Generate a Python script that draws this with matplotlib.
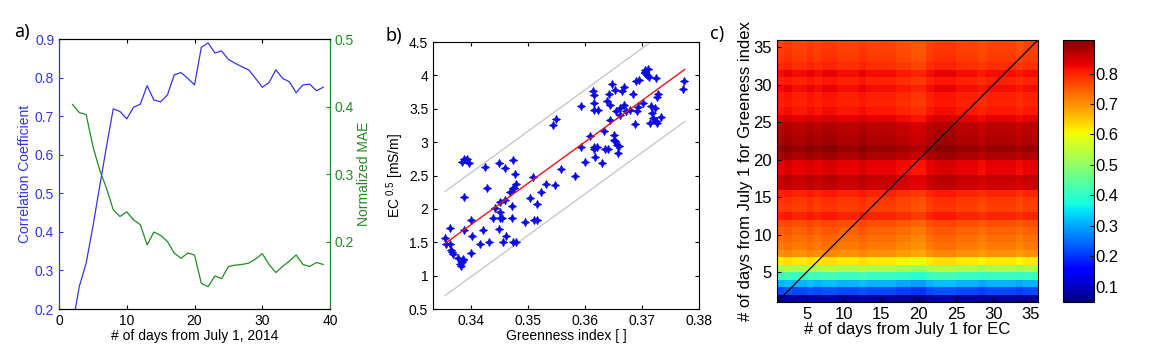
import numpy as np
import matplotlib
matplotlib.use('Agg')
import matplotlib.pyplot as plt
from matplotlib.ticker import FuncFormatter

plt.rcParams['font.family'] = ['Liberation Sans', 'DejaVu Sans']
plt.rcParams['mathtext.default'] = 'regular'

# panel a: correlation / MAE vs window length
days = list(range(2, 40))
corr = [0.16, 0.259, 0.319, 0.414, 0.518, 0.621, 0.719, 0.712, 0.693, 0.723,
        0.731, 0.779, 0.742, 0.737, 0.755, 0.807, 0.813, 0.798, 0.781, 0.878,
        0.890, 0.864, 0.869, 0.847, 0.837, 0.828, 0.820, 0.798, 0.775, 0.787,
        0.820, 0.798, 0.789, 0.761, 0.781, 0.783, 0.766, 0.775]
mae = [0.403, 0.391, 0.388, 0.341, 0.306, 0.279, 0.247, 0.237, 0.244, 0.232,
       0.225, 0.195, 0.214, 0.209, 0.200, 0.183, 0.175, 0.183, 0.180, 0.138,
       0.133, 0.149, 0.145, 0.163, 0.165, 0.166, 0.168, 0.174, 0.182, 0.166,
       0.154, 0.163, 0.171, 0.180, 0.166, 0.163, 0.169, 0.166]

# panel b: EC^0.5 vs greenness index
gi = [0.3354, 0.3356, 0.3363, 0.3363, 0.3364, 0.3366, 0.3368, 0.3376, 0.3381, 0.3384,
      0.3385, 0.3386, 0.3382, 0.3384, 0.3388, 0.3392, 0.3397, 0.3388, 0.3388, 0.3399,
      0.3401, 0.3399, 0.3415, 0.3421, 0.3425, 0.3428, 0.3432, 0.3438, 0.3442, 0.3448,
      0.3448, 0.3450, 0.3450, 0.3451, 0.3454, 0.3456, 0.3459, 0.3460, 0.3461, 0.3468,
      0.3472, 0.3472, 0.3473, 0.3474, 0.3473, 0.3477, 0.3478, 0.3479, 0.3475, 0.3494,
      0.3504, 0.3509, 0.3510, 0.3515, 0.3515, 0.3522, 0.3532, 0.3547, 0.3544, 0.3549,
      0.3557, 0.3582, 0.3592, 0.3593, 0.3600, 0.3609, 0.3613, 0.3615, 0.3615, 0.3615,
      0.3615, 0.3616, 0.3617, 0.3623, 0.3621, 0.3630, 0.3634, 0.3635, 0.3640, 0.3639,
      0.3642, 0.3643, 0.3644, 0.3647, 0.3650, 0.3650, 0.3652, 0.3653, 0.3655, 0.3656,
      0.3658, 0.3659, 0.3661, 0.3662, 0.3665, 0.3669, 0.3668, 0.3672, 0.3678, 0.3684,
      0.3687, 0.3690, 0.3691, 0.3693, 0.3694, 0.3702, 0.3705, 0.3706, 0.3708, 0.3711,
      0.3712, 0.3714, 0.3716, 0.3718, 0.3719, 0.3722, 0.3725, 0.3727, 0.3727, 0.3728,
      0.3725, 0.3734, 0.3774, 0.3772, 0.3706]
ec = [1.57, 1.48, 1.72, 1.48, 1.39, 1.35, 1.33, 1.26, 1.17, 1.20,
      1.25, 1.23, 1.15, 2.70, 2.75, 2.75, 2.68, 2.18, 1.68, 1.84,
      1.59, 1.34, 1.48, 1.69, 2.63, 2.31, 1.50, 1.87, 2.02, 2.68,
      1.70, 1.95, 2.10, 1.87, 1.87, 1.50, 2.13, 2.62, 1.59, 2.26,
      1.87, 2.05, 2.73, 2.31, 1.50, 2.53, 1.51, 2.38, 2.31, 1.80,
      2.17, 2.48, 1.84, 1.84, 2.07, 2.26, 2.37, 2.36, 3.26, 3.34,
      2.60, 2.50, 2.93, 3.54, 2.70, 3.09, 3.77, 3.71, 3.58, 3.48,
      2.89, 2.93, 2.77, 3.48, 2.93, 2.68, 3.17, 2.89, 2.89, 3.62,
      3.72, 3.33, 3.56, 3.87, 3.11, 3.03, 3.01, 3.78, 3.46, 2.96,
      2.83, 2.94, 3.51, 3.41, 3.76, 3.83, 3.56, 3.47, 3.48, 3.72,
      3.27, 3.91, 3.47, 3.52, 3.93, 3.58, 4.03, 4.08, 4.01, 4.09,
      3.97, 3.29, 3.54, 3.43, 3.36, 3.51, 3.96, 3.28, 3.67, 3.72,
      3.31, 3.37, 3.92, 3.80, 4.05]
fit_x = [0.3354, 0.3775]
fit_y = [1.48, 4.09]
band = 0.78

# panel c: correlation for EC window (cols) x greenness window (rows)
row_corr = [0.07, 0.22, 0.31, 0.41, 0.53, 0.62, 0.70, 0.72, 0.73, 0.745,
            0.76, 0.80, 0.775, 0.78, 0.80, 0.85, 0.857, 0.83, 0.835, 0.874,
            0.89, 0.874, 0.868, 0.863, 0.835, 0.81, 0.80, 0.805, 0.82, 0.80,
            0.82, 0.79, 0.78, 0.775, 0.77]
col_shift = [0.00, 0.01, 0.00, 0.00, 0.01, 0.00, 0.01, 0.01, 0.00, 0.00,
             0.00, 0.01, 0.00, 0.00, 0.00, 0.00, -0.01, -0.01, -0.02, -0.02,
             0.00, 0.01, 0.01, 0.01, 0.00, 0.00, 0.00, -0.01, 0.00, 0.00,
             0.00, 0.00, -0.01, 0.00, 0.00]
grid_days = list(range(1, 37))

blue = '#3535e0'
green = '#228b22'
fmt = FuncFormatter(lambda v, p: '%g' % round(v, 3))

fig = plt.figure(figsize=(11.6, 3.54), dpi=100)

# ---- a) ----
ax1 = fig.add_axes([0.0509, 0.1271, 0.2336, 0.7627])
ax1.plot(days, corr, color=blue, lw=0.9)
ax1.set_xlim(0, 40)
ax1.set_ylim(0.2, 0.9)
ax1.set_xticks([0, 10, 20, 30, 40])
ax1.set_yticks(np.arange(0.2, 0.91, 0.1))
ax1.yaxis.set_major_formatter(fmt)
ax1.tick_params(direction='in', top=True, right=True, labelsize=10, length=3)
ax1.tick_params(axis='y', colors=blue)
ax1.set_ylabel('Correlation Coefficient', color=blue, fontsize=10, labelpad=2)
ax1.set_xlabel('# of days from July 1, 2014', fontsize=10, labelpad=1)
ax2 = ax1.twinx()
ax2.plot(days, mae, color=green, lw=0.9)
ax2.set_ylim(0.1, 0.5)
ax2.set_yticks([0.2, 0.3, 0.4, 0.5])
ax2.yaxis.set_major_formatter(fmt)
ax2.tick_params(direction='in', colors=green, labelsize=10, length=3)
ax2.set_ylabel('Normalized MAE', color=green, fontsize=10, labelpad=2)
ax2.spines['right'].set_color(green)
ax2.spines['left'].set_color(blue)
fig.text(0.012, 0.895, 'a)', fontsize=13, family='Noto Sans')

# ---- b) ----
axb = fig.add_axes([0.3733, 0.1271, 0.2293, 0.7542])
fx = np.array(fit_x)
fy = np.array(fit_y)
axb.plot(fx, fy + band, color='#c8c8c8', lw=1)
axb.plot(fx, fy - band, color='#c8c8c8', lw=1)
axb.scatter(gi, ec, s=36, marker=(4, 1, 0), color='#0a0ae6', linewidths=0.4,
            edgecolors='#0a0ae6', zorder=3)
axb.plot(fx, fy, color='#e8141a', lw=1, zorder=4)
axb.set_xlim(0.3333, 0.38)
axb.set_ylim(0.5, 4.5)
axb.set_xticks([0.34, 0.35, 0.36, 0.37, 0.38])
axb.set_yticks(np.arange(0.5, 4.51, 0.5))
axb.xaxis.set_major_formatter(fmt)
axb.yaxis.set_major_formatter(fmt)
axb.tick_params(direction='in', top=True, right=True, labelsize=10, length=3)
axb.set_xlabel('Greenness index [ ]', fontsize=10, labelpad=1)
axb.set_ylabel('EC$^{\\ 0.5}$ [mS/m]', fontsize=10, labelpad=2)
fig.text(0.332, 0.885, 'b)', fontsize=13, family='Noto Sans')

# ---- c) ----
axc = fig.add_axes([0.6698, 0.1469, 0.2250, 0.7401])
corr_grid = np.array(row_corr)[:, None] + np.array(col_shift)[None, :]
mesh = axc.pcolormesh(grid_days, grid_days, corr_grid, cmap='jet',
                      vmin=0.05, vmax=0.91, shading='flat')
axc.plot([1, 36], [1, 36], color='black', lw=0.9)
axc.set_xlim(1, 36)
axc.set_ylim(1, 36)
axc.set_xticks(range(5, 36, 5))
axc.set_yticks(range(5, 36, 5))
axc.tick_params(direction='in', labelsize=12, length=3)
axc.set_xlabel('# of days from July 1 for EC', fontsize=12, labelpad=0)
axc.set_ylabel('# of days from July 1 for Greeness index', fontsize=12, labelpad=0)
fig.text(0.612, 0.89, 'c)', fontsize=13, family='Noto Sans')

cax = fig.add_axes([0.9164, 0.1469, 0.0267, 0.7401])
cb = fig.colorbar(mesh, cax=cax)
cb.set_ticks(np.arange(0.1, 0.81, 0.1))
cb.ax.yaxis.set_major_formatter(fmt)
cb.ax.tick_params(direction='in', labelsize=12, length=3, pad=1)
cb.outline.set_linewidth(0.8)

fig.savefig('out.png', dpi=100)
